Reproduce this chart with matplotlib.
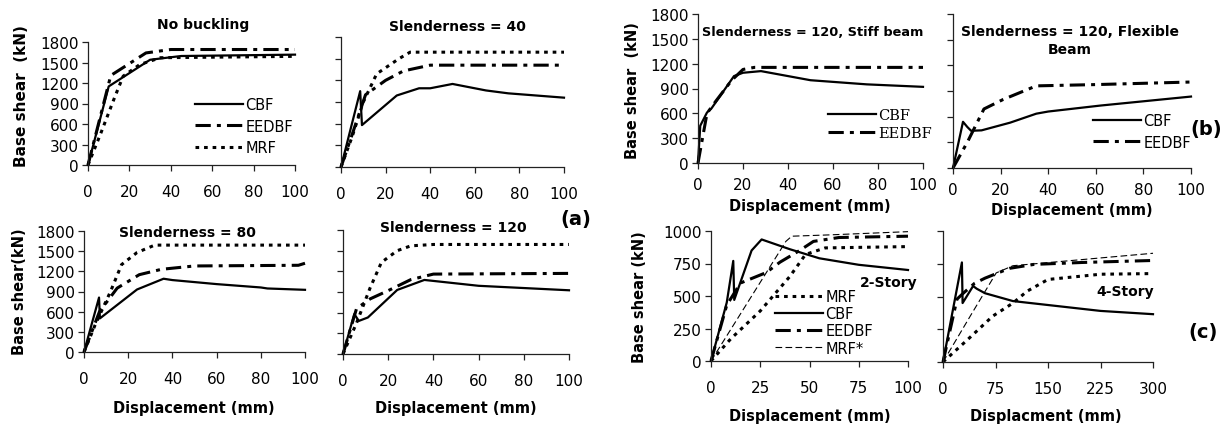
import matplotlib
matplotlib.use('Agg')
import matplotlib.pyplot as plt

## Pushover curves: base shear vs displacement for CBF / EEDBF / MRF frames

# (a) no buckling
a1_cbf_x = [0, 10, 30, 45, 100]
a1_cbf_y = [0, 1150, 1540, 1595, 1615]
a1_eed_x = [0, 11, 28, 40, 100]
a1_eed_y = [0, 1310, 1640, 1690, 1690]
a1_mrf_x = [0, 6, 13, 17, 25, 35, 100]
a1_mrf_y = [0, 450, 1000, 1300, 1470, 1570, 1590]

# (a) slenderness = 40
a2_cbf_x = [0, 8.6, 9.4, 25, 35, 40, 50, 65, 75, 100]
a2_cbf_y = [0, 1050, 580, 990, 1090, 1090, 1150, 1060, 1020, 960]
a2_eed_x = [0, 5, 11, 20, 28, 40, 100]
a2_eed_y = [0, 450, 1000, 1200, 1330, 1410, 1410]
a2_mrf_x = [0, 5, 10, 16, 26, 31, 100]
a2_mrf_y = [0, 420, 900, 1290, 1500, 1590, 1590]

# (a) slenderness = 80
a3_cbf_x = [0, 6.8, 7.2, 24, 36, 40, 60, 80, 83, 100]
a3_cbf_y = [0, 810, 500, 930, 1090, 1070, 1010, 960, 945, 925]
a3_eed_x = [0, 7, 15, 25, 35, 50, 97, 100]
a3_eed_y = [0, 600, 950, 1150, 1230, 1280, 1290, 1320]
a3_mrf_x = [0, 5, 12, 17, 24, 32, 100]
a3_mrf_y = [0, 400, 900, 1300, 1480, 1590, 1590]

# (a) slenderness = 120
a4_cbf_x = [0, 5, 7, 11, 24, 36, 60, 100]
a4_cbf_y = [0, 580, 480, 530, 930, 1075, 990, 925]
a4_eed_x = [0, 6, 12, 20, 30, 40, 100]
a4_eed_y = [0, 660, 800, 920, 1080, 1160, 1170]
a4_mrf_x = [0, 6, 12, 17, 24, 30, 40, 100]
a4_mrf_y = [0, 450, 960, 1330, 1500, 1570, 1590, 1590]

# (b) stiff beam
b1_cbf_x = [0, 1, 4, 6, 16, 20, 28, 40, 50, 75, 100]
b1_cbf_y = [0, 450, 610, 660, 1050, 1090, 1110, 1050, 1000, 950, 920]
b1_eed_x = [0, 4, 8, 15, 20, 25, 100]
b1_eed_y = [0, 600, 750, 1000, 1130, 1155, 1155]

# (b) flexible beam
b2_cbf_x = [0, 4.2, 6, 7.6, 12, 24, 35, 40, 62, 100]
b2_cbf_y = [0, 540, 480, 435, 440, 530, 635, 660, 730, 835]
b2_eed_x = [0, 6, 13, 21, 28, 35, 60, 100]
b2_eed_y = [0, 300, 690, 800, 880, 960, 975, 1005]

# (c) 2-story
c1_mrf_x = [0, 10, 25, 40, 48, 58, 100]
c1_mrf_y = [0, 170, 385, 650, 820, 870, 880]
c1_cbf_x = [0, 8, 11.3, 11.8, 20.6, 25.7, 40, 55, 75, 100]
c1_cbf_y = [0, 450, 770, 470, 850, 935, 860, 790, 740, 700]
c1_eed_x = [0, 8, 15, 28, 35, 45, 52, 65, 100]
c1_eed_y = [0, 430, 600, 680, 760, 850, 920, 950, 960]
c1_mrs_x = [0, 38, 41, 60, 100]
c1_mrs_y = [0, 920, 960, 970, 995]

# (c) 4-story
c2_mrf_x = [0, 35, 71, 100, 120, 150, 225, 300]
c2_mrf_y = [0, 170, 350, 450, 540, 630, 670, 675]
c2_cbf_x = [0, 27, 28, 43, 48, 60, 100, 150, 225, 300]
c2_cbf_y = [0, 760, 450, 580, 560, 525, 465, 435, 390, 365]
c2_eed_x = [0, 20, 30, 45, 60, 95, 130, 200, 300]
c2_eed_y = [0, 480, 530, 600, 640, 715, 745, 760, 775]
c2_mrs_x = [0, 40, 76, 100, 300]
c2_mrs_y = [0, 360, 680, 735, 830]

W, H = 1223, 427
fig = plt.figure(figsize=(W / 100, H / 100), dpi=100)

CBF = dict(color='black', lw=1.6, ls='-')
EED = dict(color='black', lw=2.2, ls=(0, (5, 2, 1.3, 2)))
MRF = dict(color='black', lw=2.2, ls=(0, (1.2, 1.6)))
MRS = dict(color='black', lw=0.8, ls=(0, (6, 3)))


def box(l, t, r, b):
    return [l / W, 1 - b / H, (r - l) / W, (b - t) / H]


def panel(l, t, r, b, xmax, ymax, ystep, xstep, ylabels=True, xpad=9.5):
    ax = fig.add_axes(box(l, t, r, b))
    ax.set_xlim(0, xmax)
    ax.set_ylim(0, ymax)
    ax.set_xticks(range(0, xmax + 1, xstep))
    ax.set_yticks(range(0, ymax + 1, ystep))
    for s in ['top', 'right']:
        ax.spines[s].set_visible(False)
    for s in ['left', 'bottom']:
        ax.spines[s].set_linewidth(0.9)
        ax.spines[s].set_color('#222222')
    ax.tick_params(direction='out', length=4.5, width=0.9, labelsize=11, colors='#222222')
    ax.tick_params(axis='y', pad=2)
    ax.tick_params(axis='x', pad=xpad)
    ax.tick_params(labelcolor='black')
    if not ylabels:
        ax.set_yticklabels([])
    return ax


def text(x, y, s, size=10, weight='bold', **kw):
    fig.text(x / W, 1 - y / H, s, fontsize=size, fontweight=weight, ha='center', va='center', **kw)


def legend(ax, x, y, size=10.5, spacing=0.45, family=None):
    prop = {'size': size}
    if family:
        prop['family'] = family
    ax.legend(loc='upper left', bbox_to_anchor=(x / W, 1 - y / H), bbox_transform=fig.transFigure,
              frameon=False, borderpad=0, borderaxespad=0, handlelength=3.3, handletextpad=0.15,
              labelspacing=spacing, prop=prop)


# ---- (a) ----
ax = panel(88, 43, 295, 166, 100, 1800, 300, 20)
ax.plot(a1_cbf_x, a1_cbf_y, label='CBF', clip_on=False, **CBF)
ax.plot(a1_eed_x, a1_eed_y, label='EEDBF', clip_on=False, **EED)
ax.plot(a1_mrf_x, a1_mrf_y, label='MRF', clip_on=False, **MRF)
legend(ax, 195, 98)
text(203, 25, 'No buckling')
text(22, 96, 'Base shear  (kN)', size=11, rotation=90)

ax = panel(341, 38, 564, 168, 100, 1800, 300, 20, ylabels=False)
ax.plot(a2_cbf_x, a2_cbf_y, clip_on=False, **CBF)
ax.plot(a2_eed_x, a2_eed_y, clip_on=False, **EED)
ax.plot(a2_mrf_x, a2_mrf_y, clip_on=False, **MRF)
text(457, 27, 'Slenderness = 40')

ax = panel(84, 232, 305, 353, 100, 1800, 300, 20)
ax.plot(a3_cbf_x, a3_cbf_y, clip_on=False, **CBF)
ax.plot(a3_eed_x, a3_eed_y, clip_on=False, **EED)
ax.plot(a3_mrf_x, a3_mrf_y, clip_on=False, **MRF)
text(187, 233, 'Slenderness = 80')
text(20, 292, 'Base shear(kN)', size=10.5, rotation=90)
text(194, 409, 'Displacement (mm)', size=10.5)

ax = panel(343, 231, 569, 355, 100, 1800, 300, 20, ylabels=False)
ax.plot(a4_cbf_x, a4_cbf_y, clip_on=False, **CBF)
ax.plot(a4_eed_x, a4_eed_y, clip_on=False, **EED)
ax.plot(a4_mrf_x, a4_mrf_y, clip_on=False, **MRF)
text(453, 228, 'Slenderness = 120')
text(456, 409, 'Displacement (mm)', size=10.5)
text(576, 220, '(a)', size=14)

# ---- (b) ----
ax = panel(698, 15, 923, 164, 100, 1800, 300, 20, xpad=5.5)
ax.plot(b1_cbf_x, b1_cbf_y, label='CBF', clip_on=False, **CBF)
ax.plot(b1_eed_x, b1_eed_y, label='EEDBF', clip_on=False, **EED)
legend(ax, 828, 109, size=10.5, spacing=0.3, family='DejaVu Serif')
text(813, 32, 'Slenderness = 120, Stiff beam', size=9.3)
text(632, 91, 'Base shear  (kN)', size=10.5, rotation=90)
text(810, 207, 'Displacement (mm)', size=10.5)

ax = panel(953, 15, 1191, 169, 100, 1800, 300, 20, ylabels=False, xpad=5.5)
ax.plot(b2_cbf_x, b2_cbf_y, label='CBF', clip_on=False, **CBF)
ax.plot(b2_eed_x, b2_eed_y, label='EEDBF', clip_on=False, **EED)
legend(ax, 1093, 114, size=10.5, spacing=0.45)
text(1070, 41, 'Slenderness = 120, Flexible\nBeam', linespacing=1.3)
text(1072, 211, 'Displacement (mm)', size=10.5)
text(1206, 130, '(b)', size=14)

# ---- (c) ----
ax = panel(711, 232, 908, 362, 100, 1000, 250, 25, xpad=9)
ax.plot(c1_mrf_x, c1_mrf_y, label='MRF', clip_on=False, **MRF)
ax.plot(c1_cbf_x, c1_cbf_y, label='CBF', clip_on=False, **CBF)
ax.plot(c1_eed_x, c1_eed_y, label='EEDBF', clip_on=False, **EED)
ax.plot(c1_mrs_x, c1_mrs_y, label='MRF*', clip_on=False, **MRS)
legend(ax, 775, 290, size=10.5, spacing=0.15)
text(889, 283, '2-Story', size=10)
text(639, 297, 'Base shear (kN)', size=10.5, rotation=90)
text(810, 417, 'Displacement (mm)', size=10.5)

ax = panel(943, 232, 1153, 363, 300, 1000, 250, 75, ylabels=False, xpad=9)
ax.plot(c2_mrf_x, c2_mrf_y, clip_on=False, **MRF)
ax.plot(c2_cbf_x, c2_cbf_y, clip_on=False, **CBF)
ax.plot(c2_eed_x, c2_eed_y, clip_on=False, **EED)
ax.plot(c2_mrs_x, c2_mrs_y, clip_on=False, **MRS)
text(1125, 292, '4-Story', size=10)
text(1046, 417, 'Displacment (mm)', size=10.5)
text(1203, 333, '(c)', size=14)

fig.savefig('out.png', dpi=100)
